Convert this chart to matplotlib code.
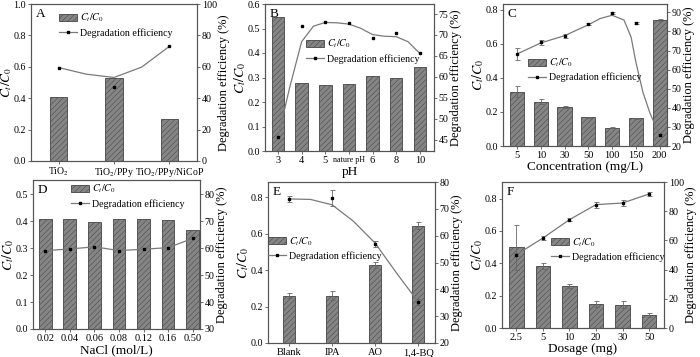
import numpy as np
import matplotlib
matplotlib.use('Agg')
import matplotlib.pyplot as plt
from matplotlib.patches import Patch
from matplotlib.lines import Line2D

plt.rcParams['font.family'] = ['Liberation Serif', 'DejaVu Serif']
plt.rcParams['mathtext.fontset'] = 'stix'
plt.rcParams['font.size'] = 7.5
plt.rcParams['hatch.linewidth'] = 0.35
plt.rcParams['hatch.color'] = '#666666'

BAR_COL = '#858585'
LINE_COL = '#7a7a7a'
FRAME_COL = '#555555'
RATIO = r'$C_t/C_0$'
EFF = 'Degradation efficiency (%)'

# ---- panel A: catalysts
a_cats = [r'TiO$_2$', r'TiO$_2$/PPy', r'TiO$_2$/PPy/NiCoP']
a_ratio = [0.41, 0.53, 0.27]
a_eff = [59.5, 47.0, 73.0]
a_fit_x = [0, 0.5, 1, 1.5, 2]
a_fit_y = [59.5, 55.3, 53.2, 59.8, 73.0]

# ---- panel B: pH
b_cats = ['3', '4', '5', 'nature pH', '6', '8', '10']
b_ratio = [0.545, 0.278, 0.270, 0.272, 0.305, 0.297, 0.343]
b_eff = [45.6, 72.1, 73.0, 72.8, 69.4, 70.4, 65.6]
b_fit_x = [0, 0.5, 1, 1.5, 2, 2.5, 3, 3.5, 4, 4.5, 5, 5.5, 6]
b_fit_y = [45.6, 57.6, 68.4, 72.1, 73.0, 72.9, 72.6, 71.6, 70.1, 69.7, 69.6, 68.4, 65.6]

# ---- panel C: concentration
c_cats = ['5', '10', '30', '50', '100', '150', '200']
c_ratio = [0.32, 0.26, 0.228, 0.168, 0.108, 0.163, 0.74]
c_ratio_err = [0.03, 0.015, 0.005, 0.003, 0.003, 0.003, 0.005]
c_eff = [68.2, 74.3, 77.8, 83.9, 89.9, 84.3, 25.8]
c_eff_err = [3.0, 1.5, 1.0, 0.5, 0.5, 0.5, 0.5]
c_fit_x = [0, 1, 2, 3, 3.5, 4, 4.5, 4.8, 5, 5.3, 5.6, 6]
c_fit_y = [68.2, 74.0, 77.8, 83.5, 86.8, 88.5, 86.0, 77.0, 64.0, 48.0, 37.0, 25.8]

# ---- panel D: NaCl
d_cats = ['0.02', '0.04', '0.06', '0.08', '0.12', '0.16', '0.50']
d_ratio = [0.410, 0.407, 0.396, 0.410, 0.408, 0.404, 0.367]
d_eff = [59.1, 59.7, 60.5, 59.1, 59.6, 60.2, 63.6]

# ---- panel E: scavengers
e_cats = ['Blank', 'IPA', 'AO', '1,4-BQ']
e_ratio = [0.26, 0.26, 0.43, 0.645]
e_ratio_err = [0.015, 0.025, 0.015, 0.02]
e_eff = [73.7, 73.9, 56.9, 35.3]
e_eff_err = [1.2, 3.0, 1.0, 1.0]
e_fit_x = [0, 0.5, 1, 1.5, 2, 2.5, 3]
e_fit_y = [73.7, 73.5, 71.5, 65.3, 57.2, 46.0, 35.3]

# ---- panel F: dosage
f_cats = ['2.5', '5', '10', '20', '30', '50']
f_ratio = [0.50, 0.385, 0.26, 0.15, 0.145, 0.08]
f_ratio_err = [0.14, 0.02, 0.015, 0.02, 0.02, 0.015]
f_eff = [50.2, 61.6, 74.2, 84.5, 85.6, 91.8]
f_eff_err = [1.0, 1.5, 1.0, 2.0, 2.0, 1.5]

W, H = 700, 357
fig = plt.figure(figsize=(W / 100, H / 100), dpi=100)


def box(l, r, t, b):
    return [l / W, (H - b) / H, (r - l) / W, (b - t) / H]


def panel(rect, letter, cats, ratio, eff, xlim, ylim, y2lim, yticks, y2ticks,
          width, leg_xy, fit=None, ratio_err=None, eff_err=None, xlabel=None,
          xfs=7.5):
    ax = fig.add_axes(box(*rect))
    x = np.arange(len(cats))
    ax.bar(x, ratio, width=width, color=BAR_COL, edgecolor='#444444',
           linewidth=0.6, hatch='//////', zorder=2)
    if ratio_err is not None:
        ax.errorbar(x, ratio, yerr=ratio_err, fmt='none', ecolor='#666666',
                    elinewidth=0.6, capsize=1.8, capthick=0.6, zorder=3)
    ax.set_xlim(*xlim)
    ax.set_ylim(*ylim)
    ax.set_xticks(x)
    ax.set_xticklabels(cats, fontsize=xfs)
    ax.set_yticks(yticks)
    ax.set_ylabel(RATIO, fontsize=10, labelpad=0)
    if xlabel:
        ax.set_xlabel(xlabel, fontsize=9.5, labelpad=1)
    ax.text(0.03, 0.975, letter, transform=ax.transAxes, fontsize=9.5,
            ha='left', va='top')

    ax2 = ax.twinx()
    if fit is not None:
        ax2.plot(fit[0], fit[1], color=LINE_COL, lw=0.9, zorder=2)
    else:
        ax2.plot(x, eff, color=LINE_COL, lw=0.9, zorder=2)
    if eff_err is not None:
        ax2.errorbar(x, eff, yerr=eff_err, fmt='none', ecolor='#666666',
                     elinewidth=0.6, capsize=1.8, capthick=0.6, zorder=3)
    ax2.plot(x, eff, ls='none', marker='s', ms=1.7, color='black', zorder=4)
    ax2.set_ylim(*y2lim)
    ax2.set_yticks(y2ticks)
    ax2.set_ylabel(EFF, fontsize=9, labelpad=1)

    for a in (ax, ax2):
        for s in a.spines.values():
            s.set_color(FRAME_COL)
            s.set_linewidth(0.8)
        a.tick_params(direction='out', length=2.5, width=0.6, color=FRAME_COL,
                      labelsize=7.2, pad=1)
    ax.tick_params(axis='x', labelsize=xfs)

    handles = [Patch(facecolor=BAR_COL, edgecolor='#444444', hatch='//////', lw=0.6),
               Line2D([], [], color=LINE_COL, lw=0.9, marker='s', ms=1.7,
                      mfc='black', mec='black')]
    ax2.legend(handles, [RATIO, 'Degradation efficiency'], loc='upper left',
               bbox_to_anchor=leg_xy, frameon=False, fontsize=7.2,
               handlelength=1.8, handleheight=0.7, handletextpad=0.3,
               borderpad=0, borderaxespad=0, labelspacing=0.35)
    return ax, ax2


axa, _ = panel((31, 197, 4, 161), 'A', a_cats, a_ratio, a_eff, (-0.5, 2.5), (0, 1.0),
               (0, 100), np.arange(0, 1.01, 0.2), np.arange(0, 101, 20), 0.31,
               (0.17, 0.95), fit=(a_fit_x, a_fit_y), xfs=7)
axa.yaxis.label.set_fontsize(9.5)
axa.yaxis.set_label_coords(-0.1, 0.5)

axb, _ = panel((265, 434, 4, 151), 'B', b_cats, b_ratio, b_eff, (-0.55, 6.6), (0, 0.6),
               (42.3, 77.4), np.arange(0, 0.61, 0.1), np.arange(45, 76, 5), 0.53,
               (0.24, 0.77), fit=(b_fit_x, b_fit_y), xlabel='pH')
axb.get_xticklabels()[3].set_fontsize(5.8)

panel((503, 667, 4, 146), 'C', c_cats, c_ratio, c_eff, (-0.59, 6.31), (0, 0.835), (20, 94.4),
      np.arange(0, 0.81, 0.2), np.arange(20, 91, 10), 0.6, (0.15, 0.63),
      fit=(c_fit_x, c_fit_y), ratio_err=c_ratio_err, eff_err=c_eff_err,
      xlabel='Concentration (mg/L)')

panel((33, 200, 180, 329), 'D', d_cats, d_ratio, d_eff, (-0.5, 6.3), (0, 0.553), (30, 85.3),
      np.arange(0, 0.51, 0.1), np.arange(30, 81, 10), 0.52, (0.23, 0.98),
      xlabel='NaCl (mol/L)')

panel((268, 435, 182, 343), 'E', e_cats, e_ratio, e_eff, (-0.49, 3.39), (0, 0.885), (20, 80),
      np.arange(0, 0.81, 0.2), np.arange(20, 81, 10), 0.29, (0.0, 0.67),
      fit=(e_fit_x, e_fit_y), ratio_err=e_ratio_err, eff_err=e_eff_err)

panel((502, 664, 182, 328), 'F', f_cats, f_ratio, f_eff, (-0.54, 5.56), (0, 0.903), (0, 100),
      np.arange(0, 0.81, 0.2), np.arange(0, 101, 20), 0.55, (0.30, 0.63),
      ratio_err=f_ratio_err, eff_err=f_eff_err, xlabel='Dosage (mg)')

fig.savefig('out.png', dpi=100)
